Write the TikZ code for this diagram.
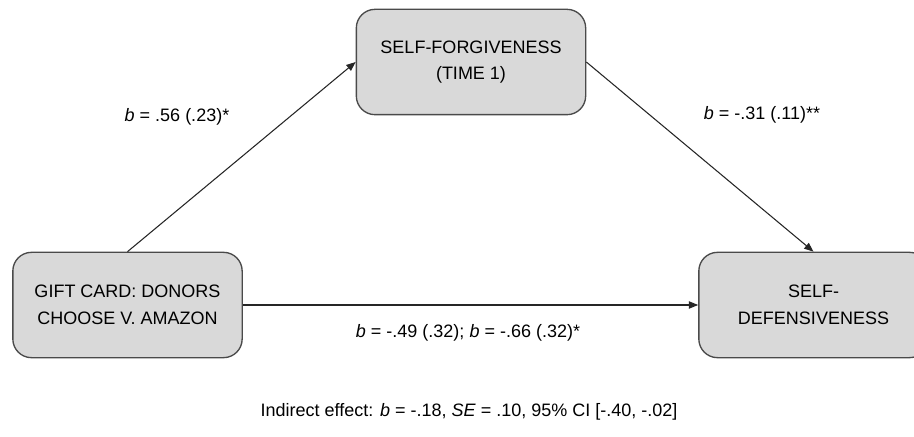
\documentclass[tikz,border=0pt]{standalone}
\usepackage{fontspec}
\setmainfont{Liberation Sans}
\usepackage{xcolor}
\usepackage{tikz}
\usetikzlibrary{arrows.meta}

\definecolor{boxfill}{HTML}{D9D9D9}
\definecolor{boxline}{HTML}{4A4A4A}

\tikzset{
  varbox/.style={draw=boxline, fill=boxfill, line width=1pt, rounded corners=14pt,
    minimum width=172pt, minimum height=79pt, align=center, inner sep=0pt,
    font=\fontsize{13.5}{20}\selectfont},
  path/.style={draw=black!85, line width=0.8pt, -{Triangle[length=7pt,width=5.5pt]}},
  coef/.style={font=\fontsize{13.5}{16}\selectfont, inner sep=0pt}
}

\begin{document}
\begin{tikzpicture}[x=0.75pt,y=0.75pt]
\useasboundingbox (0,0) rectangle (914,436);

% Variables
\node[varbox] (gift) at (127.5,131) {GIFT CARD: DONORS\\CHOOSE V. AMAZON};
\node[varbox] (forgive) at (471,374) {SELF-FORGIVENESS\\(TIME 1)};
\node[varbox] (defens) at (813.5,131) {SELF-\\DEFENSIVENESS};

% Paths
\draw[path] (gift.north) -- (forgive.west);
\draw[path] (forgive.east) -- (defens.north);
\draw[path] (gift.east) -- (defens.west);

% Coefficients
\node[coef] (apath) at (177,319) {\textit{b} = .56 (.23)*};
\node[coef] (bpath) at (762,321) {\textit{b} = -.31 (.11)**};
\node[coef] (cpath) at (468,103) {\textit{b} = -.49 (.32); \textit{b} = -.66 (.32)*};

% Indirect effect
\node[coef] (indirect) at (469,24) {Indirect effect: \textit{b} = -.18, \textit{SE} = .10, 95\% CI [-.40, -.02]};
\end{tikzpicture}
\end{document}
